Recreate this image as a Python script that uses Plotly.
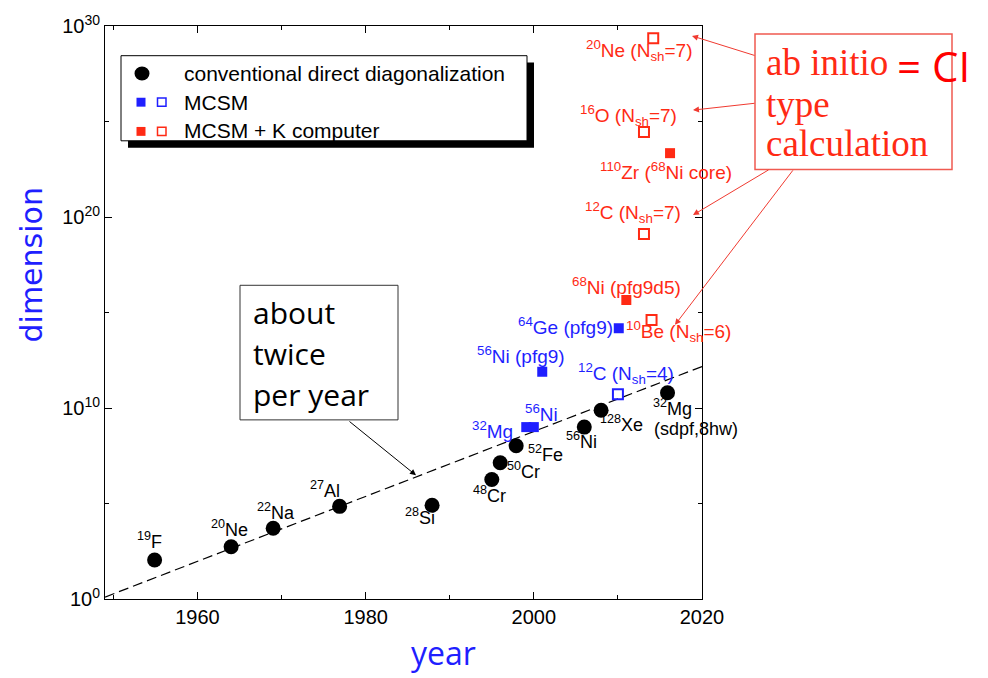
import plotly.graph_objects as go

# ---------------- data ----------------
conv_years = [1954.9, 1964.0, 1969.0, 1976.9, 1987.9, 1995.0, 1996.0, 1997.9, 2006.0, 2008.0, 2015.9]
conv_dims = [1.1e2, 5.4e2, 5.1e3, 7.1e4, 8.1e4, 1.8e6, 1.35e7, 1.05e8, 1.0e9, 7.6e9, 6.3e10]

mcsm_filled_years = [1999.1, 2000.0, 2001.0, 2010.1]
mcsm_filled_dims = [1.0e9, 1.0e9, 7.9e11, 1.5e14]
mcsm_open_years = [2010.0]
mcsm_open_dims = [5.2e10]

k_filled_years = [2011.0, 2016.2]
k_filled_dims = [4.5e15, 2.2e23]
k_open_years = [2014.0, 2013.1, 2013.1, 2014.2]
k_open_dims = [4.0e14, 1.3e19, 2.8e24, 2.3e29]

trend_years = [1949, 2021]
trend_dims = [1.26, 2.2e12]

x_tickvals = [1960, 1980, 2000, 2020]
x_ticktext = ["1960", "1980", "2000", "2020"]
x_minor = [1950, 1970, 1990, 2010]
y_tickvals = [1, 1e10, 1e20, 1e30]
y_ticktext = ["10<sup>0</sup>", "10<sup>10</sup>", "10<sup>20</sup>", "10<sup>30</sup>"]
y_minor = [1e5, 1e15, 1e25]

legend_labels = ["conventional direct diagonalization", "MCSM", "MCSM + K computer"]

# ---------------- layout helpers ----------------
W, H = 988, 678
PL, PR, PT, PB = 105, 702, 20, 599


def X(p):
    return (p - PL) / (PR - PL)


def Y(p):
    return (PB - p) / (PB - PT)


BLUE = "#1f1fff"
RED = "#ff2a14"
SANS = "Liberation Sans, Arial, sans-serif"

fig = go.Figure()

fig.add_trace(go.Scatter(x=trend_years, y=trend_dims, mode="lines",
                         line=dict(color="black", width=1.2, dash="10px,5px"),
                         showlegend=False, hoverinfo="skip"))
fig.add_trace(go.Scatter(x=conv_years, y=conv_dims, mode="markers",
                         marker=dict(symbol="circle", size=15, color="black"),
                         showlegend=False))
fig.add_trace(go.Scatter(x=mcsm_filled_years, y=mcsm_filled_dims, mode="markers",
                         marker=dict(symbol="square", size=10, color=BLUE, line=dict(width=0)),
                         showlegend=False))
fig.add_trace(go.Scatter(x=mcsm_open_years, y=mcsm_open_dims, mode="markers",
                         marker=dict(symbol="square-open", size=10, color=BLUE, line=dict(width=2)),
                         showlegend=False))
fig.add_trace(go.Scatter(x=k_filled_years, y=k_filled_dims, mode="markers",
                         marker=dict(symbol="square", size=10, color=RED, line=dict(width=0)),
                         showlegend=False))
fig.add_trace(go.Scatter(x=k_open_years, y=k_open_dims, mode="markers",
                         marker=dict(symbol="square-open", size=10, color=RED, line=dict(width=2)),
                         showlegend=False))

shapes = []
annotations = []


def label(text, cx, cy, color="black", size=18, xanchor="center", font=SANS):
    annotations.append(dict(text=text, x=X(cx), y=Y(cy), xref="paper", yref="paper",
                            xanchor=xanchor, yanchor="middle", showarrow=False,
                            font=dict(family=font, size=size, color=color)))


# black labels
label("<sup>19</sup>F", 149, 540)
label("<sup>20</sup>Ne", 229, 528)
label("<sup>22</sup>Na", 276, 511)
label("<sup>27</sup>Al", 325, 488)
label("<sup>28</sup>Si", 420, 516)
label("<sup>48</sup>Cr", 489, 493)
label("<sup>50</sup>Cr", 523, 469)
label("<sup>52</sup>Fe", 545, 452)
label("<sup>56</sup>Ni", 581, 439)
label("<sup>128</sup>Xe", 621, 422)
label("<sup>32</sup>Mg", 651, 405, xanchor="left")
label("(sdpf,8hw)", 652, 427, xanchor="left")

# blue labels
label("<sup>32</sup>Mg", 492, 428, BLUE, size=19)
label("<sup>56</sup>Ni", 541, 411, BLUE, size=19)
label("<sup>56</sup>Ni (pfg9)", 521, 352, BLUE, size=19)
label("<sup>64</sup>Ge (pfg9)", 565, 323, BLUE, size=19)
label("<sup>12</sup>C (N<sub>sh</sub>=4)", 626, 371, BLUE, size=19)

# red labels
label("<sup>68</sup>Ni (pfg9d5)", 626, 283, RED, size=19)
label("<sup>10</sup>Be (N<sub>sh</sub>=6)", 678, 329, RED, size=19)
label("<sup>20</sup>Ne (N<sub>sh</sub>=7)", 639, 45, RED, size=19)
label("<sup>16</sup>O (N<sub>sh</sub>=7)", 628, 110, RED, size=19)
label("<sup>110</sup>Zr (<sup>68</sup>Ni core)", 666, 167, RED, size=19)
label("<sup>12</sup>C (N<sub>sh</sub>=7)", 633, 208, RED, size=19)

# axis titles
annotations.append(dict(text="dimension", x=X(31), y=Y(262), xref="paper", yref="paper",
                        textangle=-90, showarrow=False, xanchor="center", yanchor="middle",
                        font=dict(family="DejaVu Sans", size=30, color=BLUE)))
label("year", 443, 653, BLUE, size=32, font="Open Sans")

# legend
shapes.append(dict(type="rect", xref="paper", yref="paper", x0=X(128), x1=X(534), y0=Y(57), y1=Y(143),
                   fillcolor="black", line=dict(width=0)))
shapes.append(dict(type="rect", xref="paper", yref="paper", x0=X(121), x1=X(527), y0=Y(50), y1=Y(136),
                   fillcolor="white", line=dict(color="black", width=1)))
shapes.append(dict(type="circle", xref="paper", yref="paper", x0=X(134.5), x1=X(149.5), y0=Y(61), y1=Y(75),
                   fillcolor="black", line=dict(width=0)))
for yy, col in [(97, BLUE), (126.5, RED)]:
    shapes.append(dict(type="rect", xref="paper", yref="paper", x0=X(136.5), x1=X(145.5),
                       y0=Y(yy - 4.5), y1=Y(yy + 4.5), fillcolor=col, line=dict(width=0)))
    shapes.append(dict(type="rect", xref="paper", yref="paper", x0=X(157.5), x1=X(166),
                       y0=Y(yy - 4.2), y1=Y(yy + 4.2), fillcolor="white", line=dict(color=col, width=1.5)))
for txt, yy in zip(legend_labels, [68, 97, 126]):
    label(txt, 182, yy, size=21, xanchor="left")

# "about twice per year" box
shapes.append(dict(type="rect", xref="paper", yref="paper", x0=X(240), x1=X(398), y0=Y(282), y1=Y(418),
                   fillcolor="white", line=dict(color="#333333", width=1)))
label("about", 251, 309, size=30, xanchor="left", font="Open Sans")
label("twice", 251, 351, size=30, xanchor="left", font="Open Sans")
label("per year", 251, 392, size=30, xanchor="left", font="Open Sans")
annotations.append(dict(text="", x=X(416), y=Y(474), xref="paper", yref="paper",
                        ax=-68, ay=-55, showarrow=True, arrowhead=2, arrowsize=1.2,
                        arrowwidth=1, arrowcolor="black"))

# red box
shapes.append(dict(type="rect", xref="paper", yref="paper", x0=X(755), x1=X(952), y0=Y(28), y1=Y(165),
                   fillcolor="rgba(0,0,0,0)", line=dict(color="#f05a50", width=1.5)))
SERIF = "Liberation Serif, Times New Roman, serif"
label("ab initio", 764, 57, RED, size=37, xanchor="left", font=SERIF)
label("type", 764, 99, RED, size=37, xanchor="left", font=SERIF)
label("calculation", 764, 139, RED, size=37, xanchor="left", font=SERIF)
label("= CI", 933, 60, "#ff0000", size=42, font="Open Sans")
for hx, hy, ax, ay in [(692, 30, 64, 20), (693, 105, 63, -7), (693, 211, 77, -46), (675, 322, 119, -156)]:
    annotations.append(dict(text="", x=X(hx), y=Y(hy), xref="paper", yref="paper",
                            ax=ax, ay=ay, showarrow=True, arrowhead=2, arrowsize=1.2,
                            arrowwidth=1, arrowcolor="#f03a30"))

fig.update_layout(
    width=W, height=H,
    margin=dict(l=PL, r=W - PR, t=PT, b=H - PB),
    paper_bgcolor="white", plot_bgcolor="white",
    shapes=shapes, annotations=annotations,
    showlegend=False,
    xaxis=dict(range=[1949, 2020], tickmode="array", tickvals=x_tickvals, ticktext=x_ticktext,
               ticks="inside", ticklen=7, tickcolor="black", showline=True, linecolor="black",
               linewidth=1, mirror="ticks", showgrid=False, zeroline=False,
               tickfont=dict(family=SANS, size=20, color="black"),
               minor=dict(tickmode="array", tickvals=x_minor, ticks="inside", ticklen=4,
                          tickcolor="black", showgrid=False)),
    yaxis=dict(type="log", range=[0, 30], tickmode="array", tickvals=y_tickvals, ticktext=y_ticktext,
               ticks="inside", ticklen=7, tickcolor="black", showline=True, linecolor="black",
               linewidth=1, mirror="ticks", showgrid=False, zeroline=False,
               tickfont=dict(family=SANS, size=20, color="black"),
               minor=dict(tickmode="array", tickvals=y_minor, ticks="inside", ticklen=4,
                          tickcolor="black", showgrid=False)),
)

fig.write_html("out.html")
